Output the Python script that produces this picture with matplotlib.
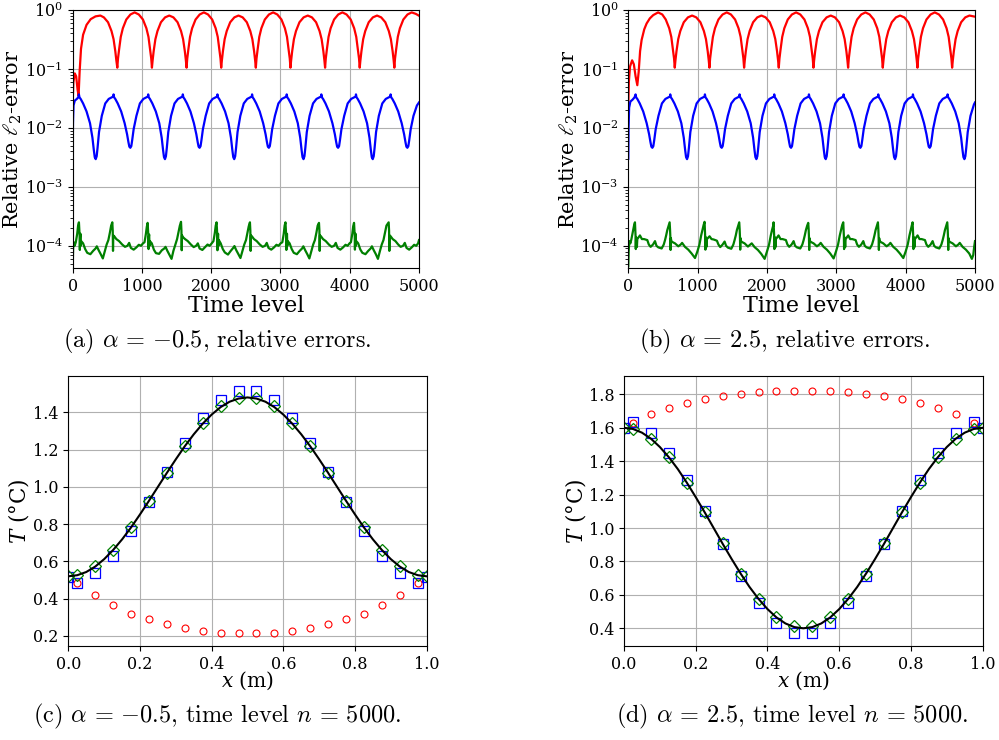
import numpy as np
import matplotlib
matplotlib.use('Agg')
import matplotlib.pyplot as plt

plt.rcParams['font.family'] = 'DejaVu Serif'
plt.rcParams['mathtext.fontset'] = 'dejavuserif'

# ---------------- data ----------------
# (a) alpha = -0.5, relative l2 errors vs time level
red_a_t = [0, 10, 30, 50, 70, 85, 100, 120, 150, 200, 260, 330, 400, 450, 510, 560, 590, 615, 630, 644,
           654, 669, 694, 724, 774, 834, 894, 954, 1014, 1064, 1094, 1119, 1134, 1144,
           1154, 1169, 1194, 1224, 1274, 1334, 1394, 1454, 1514, 1564, 1594, 1619, 1634, 1644,
           1654, 1669, 1694, 1724, 1774, 1834, 1894, 1954, 2014, 2064, 2094, 2119, 2134, 2144,
           2154, 2169, 2194, 2224, 2274, 2334, 2394, 2454, 2514, 2564, 2594, 2619, 2634, 2644,
           2654, 2669, 2694, 2724, 2774, 2834, 2894, 2954, 3014, 3064, 3094, 3119, 3134, 3144,
           3154, 3169, 3194, 3224, 3274, 3334, 3394, 3454, 3514, 3564, 3594, 3619, 3634, 3644,
           3654, 3669, 3694, 3724, 3774, 3834, 3894, 3954, 4014, 4064, 4094, 4119, 4134, 4144,
           4154, 4169, 4194, 4224, 4274, 4334, 4394, 4454, 4514, 4564, 4594, 4619, 4634, 4644,
           4654, 4669, 4694, 4724, 4774, 4834, 4894, 4954, 5000]
red_a_v = [0.028, 0.06, 0.084, 0.075, 0.045, 0.035, 0.09, 0.22, 0.38, 0.56, 0.70, 0.78, 0.805, 0.75, 0.62, 0.44, 0.32, 0.20, 0.14, 0.105,
           0.15, 0.21, 0.35, 0.49, 0.69, 0.84, 0.91, 0.84, 0.69, 0.49, 0.35, 0.21, 0.15, 0.105,
           0.14, 0.20, 0.32, 0.44, 0.62, 0.75, 0.805, 0.75, 0.62, 0.44, 0.32, 0.20, 0.14, 0.105,
           0.15, 0.21, 0.35, 0.49, 0.69, 0.84, 0.91, 0.84, 0.69, 0.49, 0.35, 0.21, 0.15, 0.105,
           0.14, 0.20, 0.32, 0.44, 0.62, 0.75, 0.805, 0.75, 0.62, 0.44, 0.32, 0.20, 0.14, 0.105,
           0.15, 0.21, 0.35, 0.49, 0.69, 0.84, 0.91, 0.84, 0.69, 0.49, 0.35, 0.21, 0.15, 0.105,
           0.14, 0.20, 0.32, 0.44, 0.62, 0.75, 0.805, 0.75, 0.62, 0.44, 0.32, 0.20, 0.14, 0.105,
           0.15, 0.21, 0.35, 0.49, 0.69, 0.84, 0.91, 0.84, 0.69, 0.49, 0.35, 0.21, 0.15, 0.105,
           0.14, 0.20, 0.32, 0.44, 0.62, 0.75, 0.805, 0.75, 0.62, 0.44, 0.32, 0.20, 0.14, 0.105,
           0.15, 0.21, 0.35, 0.49, 0.69, 0.84, 0.91, 0.86, 0.80]

blue_a_t = [0, 4, 12, 30, 60, 80,
            90, 98, 115, 150, 200, 250, 285, 305, 318, 332, 346, 359, 380, 420, 470, 520, 565, 585,
            590, 598, 615, 650, 700, 750, 785, 805, 818, 832, 846, 859, 880, 920, 970, 1020, 1065, 1085,
            1090, 1098, 1115, 1150, 1200, 1250, 1285, 1305, 1318, 1332, 1346, 1359, 1380, 1420, 1470, 1520, 1565, 1585,
            1590, 1598, 1615, 1650, 1700, 1750, 1785, 1805, 1818, 1832, 1846, 1859, 1880, 1920, 1970, 2020, 2065, 2085,
            2090, 2098, 2115, 2150, 2200, 2250, 2285, 2305, 2318, 2332, 2346, 2359, 2380, 2420, 2470, 2520, 2565, 2585,
            2590, 2598, 2615, 2650, 2700, 2750, 2785, 2805, 2818, 2832, 2846, 2859, 2880, 2920, 2970, 3020, 3065, 3085,
            3090, 3098, 3115, 3150, 3200, 3250, 3285, 3305, 3318, 3332, 3346, 3359, 3380, 3420, 3470, 3520, 3565, 3585,
            3590, 3598, 3615, 3650, 3700, 3750, 3785, 3805, 3818, 3832, 3846, 3859, 3880, 3920, 3970, 4020, 4065, 4085,
            4090, 4098, 4115, 4150, 4200, 4250, 4285, 4305, 4318, 4332, 4346, 4359, 4380, 4420, 4470, 4520, 4565, 4585,
            4590, 4598, 4615, 4650, 4700, 4750, 4785, 4805, 4818, 4832, 4846, 4859, 4880, 4920, 4970, 5000]
blue_a_v = [0.0035, 0.012, 0.024, 0.029, 0.031, 0.033,
            0.037, 0.033, 0.031, 0.026, 0.019, 0.012, 0.0068, 0.0042, 0.0032, 0.00295, 0.0033, 0.0046, 0.0085, 0.016, 0.026, 0.031, 0.033, 0.034,
            0.037, 0.033, 0.031, 0.026, 0.019, 0.012, 0.0078, 0.0057, 0.0048, 0.0046, 0.0049, 0.0062, 0.0095, 0.016, 0.026, 0.031, 0.033, 0.034,
            0.037, 0.033, 0.031, 0.026, 0.019, 0.012, 0.0068, 0.0042, 0.0032, 0.00295, 0.0033, 0.0046, 0.0085, 0.016, 0.026, 0.031, 0.033, 0.034,
            0.037, 0.033, 0.031, 0.026, 0.019, 0.012, 0.0078, 0.0057, 0.0048, 0.0046, 0.0049, 0.0062, 0.0095, 0.016, 0.026, 0.031, 0.033, 0.034,
            0.037, 0.033, 0.031, 0.026, 0.019, 0.012, 0.0068, 0.0042, 0.0032, 0.00295, 0.0033, 0.0046, 0.0085, 0.016, 0.026, 0.031, 0.033, 0.034,
            0.037, 0.033, 0.031, 0.026, 0.019, 0.012, 0.0078, 0.0057, 0.0048, 0.0046, 0.0049, 0.0062, 0.0095, 0.016, 0.026, 0.031, 0.033, 0.034,
            0.037, 0.033, 0.031, 0.026, 0.019, 0.012, 0.0068, 0.0042, 0.0032, 0.00295, 0.0033, 0.0046, 0.0085, 0.016, 0.026, 0.031, 0.033, 0.034,
            0.037, 0.033, 0.031, 0.026, 0.019, 0.012, 0.0078, 0.0057, 0.0048, 0.0046, 0.0049, 0.0062, 0.0095, 0.016, 0.026, 0.031, 0.033, 0.034,
            0.037, 0.033, 0.031, 0.026, 0.019, 0.012, 0.0068, 0.0042, 0.0032, 0.00295, 0.0033, 0.0046, 0.0085, 0.016, 0.026, 0.031, 0.033, 0.034,
            0.037, 0.033, 0.031, 0.026, 0.019, 0.012, 0.0078, 0.0057, 0.0048, 0.0046, 0.0049, 0.0062, 0.0095, 0.016, 0.024, 0.027]

green_a_t = [0, 6, 15, 28,
             45, 65, 78, 90, 96, 100, 103, 107, 112, 117, 123, 150, 180, 210, 255, 295, 330, 348, 375, 405, 435, 462,
             490, 515, 538, 555, 572, 578, 582, 586, 600, 630, 670, 715, 755, 790, 815, 840, 880, 920, 955, 985, 1015,
             1037, 1057, 1070, 1082, 1088, 1092, 1095, 1099, 1104, 1109, 1115, 1142, 1172, 1202, 1247, 1287, 1322, 1340, 1367, 1397, 1427, 1454,
             1482, 1507, 1530, 1547, 1564, 1570, 1574, 1578, 1592, 1622, 1662, 1707, 1747, 1782, 1807, 1832, 1872, 1912, 1947, 1977, 2007,
             2032, 2052, 2065, 2077, 2083, 2087, 2090, 2094, 2099, 2104, 2110, 2137, 2167, 2197, 2242, 2282, 2317, 2335, 2362, 2392, 2422, 2449,
             2477, 2502, 2525, 2542, 2559, 2565, 2569, 2573, 2587, 2617, 2657, 2702, 2742, 2777, 2802, 2827, 2867, 2907, 2942, 2972, 3002,
             3027, 3047, 3060, 3072, 3078, 3082, 3085, 3089, 3094, 3099, 3105, 3132, 3162, 3192, 3237, 3277, 3312, 3330, 3357, 3387, 3417, 3444,
             3472, 3497, 3520, 3537, 3556, 3562, 3566, 3570, 3584, 3614, 3654, 3699, 3739, 3774, 3799, 3824, 3864, 3904, 3939, 3969, 3997,
             4017, 4037, 4050, 4062, 4068, 4072, 4075, 4079, 4084, 4089, 4095, 4122, 4152, 4182, 4227, 4267, 4302, 4320, 4347, 4377, 4407, 4434,
             4462, 4487, 4510, 4530, 4562, 4568, 4572, 4576, 4590, 4620, 4660, 4700, 4735, 4770, 4795, 4820, 4858, 4895, 4930, 4960, 4987, 5000]
green_a_v = [4.5e-5, 9e-5, 1.15e-4, 1.0e-4,
             1.15e-4, 1.6e-4, 2.2e-4, 2.5e-4, 1.9e-4, 1.5e-4, 8.5e-5, 1.35e-4, 1.6e-4, 1.0e-4, 1.2e-4, 1.1e-4, 8.8e-5, 7.6e-5, 7.2e-5, 8.2e-5, 9.0e-5, 9.8e-5, 8.4e-5, 7.2e-5, 6.1e-5, 8.0e-5,
             1.05e-4, 1.25e-4, 1.7e-4, 2.2e-4, 2.5e-4, 1.8e-4, 8.2e-5, 1.5e-4, 1.45e-4, 1.3e-4, 1.2e-4, 1.05e-4, 9.6e-5, 1.0e-4, 1.12e-4, 9.2e-5, 8.6e-5, 9.4e-5, 1.04e-4, 1.0e-4, 1.1e-4,
             1.15e-4, 1.6e-4, 2.1e-4, 2.45e-4, 1.85e-4, 1.5e-4, 8.8e-5, 1.4e-4, 1.55e-4, 1.0e-4, 1.2e-4, 1.1e-4, 8.6e-5, 7.5e-5, 7.3e-5, 8.4e-5, 9.0e-5, 9.6e-5, 8.2e-5, 7.0e-5, 6.0e-5, 8.2e-5,
             1.05e-4, 1.3e-4, 1.75e-4, 2.2e-4, 2.55e-4, 1.8e-4, 8.4e-5, 1.5e-4, 1.4e-4, 1.3e-4, 1.2e-4, 1.05e-4, 9.5e-5, 1.0e-4, 1.1e-4, 9.0e-5, 8.5e-5, 9.5e-5, 1.05e-4, 1.0e-4, 1.1e-4,
             1.2e-4, 1.65e-4, 2.2e-4, 2.5e-4, 1.9e-4, 1.45e-4, 8.4e-5, 1.35e-4, 1.6e-4, 1.0e-4, 1.25e-4, 1.1e-4, 8.8e-5, 7.7e-5, 7.1e-5, 8.2e-5, 9.2e-5, 9.9e-5, 8.4e-5, 7.2e-5, 6.2e-5, 8.0e-5,
             1.05e-4, 1.25e-4, 1.7e-4, 2.15e-4, 2.5e-4, 1.8e-4, 8.2e-5, 1.5e-4, 1.45e-4, 1.3e-4, 1.2e-4, 1.05e-4, 9.6e-5, 1.0e-4, 1.12e-4, 9.2e-5, 8.6e-5, 9.4e-5, 1.04e-4, 1.0e-4, 1.1e-4,
             1.15e-4, 1.6e-4, 2.2e-4, 2.5e-4, 1.9e-4, 1.5e-4, 8.5e-5, 1.35e-4, 1.6e-4, 1.0e-4, 1.2e-4, 1.1e-4, 8.8e-5, 7.6e-5, 7.2e-5, 8.2e-5, 9.0e-5, 9.8e-5, 8.4e-5, 7.2e-5, 6.1e-5, 8.0e-5,
             1.05e-4, 1.25e-4, 1.7e-4, 2.2e-4, 2.45e-4, 1.8e-4, 8.2e-5, 1.5e-4, 1.45e-4, 1.3e-4, 1.2e-4, 1.05e-4, 9.6e-5, 1.0e-4, 1.12e-4, 9.2e-5, 8.6e-5, 9.4e-5, 1.04e-4, 1.0e-4, 1.1e-4,
             1.15e-4, 1.6e-4, 2.15e-4, 2.45e-4, 1.9e-4, 1.5e-4, 8.6e-5, 1.35e-4, 1.6e-4, 1.0e-4, 1.2e-4, 1.1e-4, 8.7e-5, 7.6e-5, 7.2e-5, 8.2e-5, 9.0e-5, 9.8e-5, 8.4e-5, 7.2e-5, 6.0e-5, 8.0e-5,
             1.05e-4, 1.25e-4, 1.7e-4, 2.2e-4, 2.5e-4, 1.8e-4, 8.2e-5, 1.5e-4, 1.45e-4, 1.3e-4, 1.2e-4, 1.05e-4, 9.6e-5, 1.0e-4, 1.12e-4, 9.2e-5, 8.6e-5, 9.4e-5, 1.04e-4, 1.0e-4, 1.1e-4, 1.25e-4]

# (b) alpha = 2.5, relative l2 errors vs time level
red_b_t = [0, 8, 25, 55, 80, 105, 130, 150, 170, 192, 230, 264, 310, 360, 430, 490, 540, 590, 620, 645, 660, 670,
           680, 695, 720, 750, 800, 860, 920, 980, 1040, 1090, 1120, 1145, 1160, 1170,
           1180, 1195, 1220, 1250, 1300, 1360, 1420, 1480, 1540, 1590, 1620, 1645, 1660, 1670,
           1680, 1695, 1720, 1750, 1800, 1860, 1920, 1980, 2040, 2090, 2120, 2145, 2160, 2170,
           2180, 2195, 2220, 2250, 2300, 2360, 2420, 2480, 2540, 2590, 2620, 2645, 2660, 2670,
           2680, 2695, 2720, 2750, 2800, 2860, 2920, 2980, 3040, 3090, 3120, 3145, 3160, 3170,
           3180, 3195, 3220, 3250, 3300, 3360, 3420, 3480, 3540, 3590, 3620, 3645, 3660, 3670,
           3680, 3695, 3720, 3750, 3800, 3860, 3920, 3980, 4040, 4090, 4120, 4145, 4160, 4170,
           4180, 4195, 4220, 4250, 4300, 4360, 4420, 4480, 4540, 4590, 4620, 4645, 4660, 4670,
           4680, 4695, 4720, 4750, 4800, 4860, 4920, 4980, 5000]
red_b_v = [0.025, 0.06, 0.11, 0.14, 0.12, 0.075, 0.053, 0.09, 0.20, 0.31, 0.47, 0.59, 0.72, 0.82, 0.91, 0.84, 0.69, 0.49, 0.35, 0.21, 0.15, 0.105,
           0.14, 0.20, 0.32, 0.44, 0.62, 0.75, 0.805, 0.75, 0.62, 0.44, 0.32, 0.20, 0.14, 0.105,
           0.15, 0.21, 0.35, 0.49, 0.69, 0.84, 0.91, 0.84, 0.69, 0.49, 0.35, 0.21, 0.15, 0.105,
           0.14, 0.20, 0.32, 0.44, 0.62, 0.75, 0.805, 0.75, 0.62, 0.44, 0.32, 0.20, 0.14, 0.105,
           0.15, 0.21, 0.35, 0.49, 0.69, 0.84, 0.91, 0.84, 0.69, 0.49, 0.35, 0.21, 0.15, 0.105,
           0.14, 0.20, 0.32, 0.44, 0.62, 0.75, 0.805, 0.75, 0.62, 0.44, 0.32, 0.20, 0.14, 0.105,
           0.15, 0.21, 0.35, 0.49, 0.69, 0.84, 0.91, 0.84, 0.69, 0.49, 0.35, 0.21, 0.15, 0.105,
           0.14, 0.20, 0.32, 0.44, 0.62, 0.75, 0.805, 0.75, 0.62, 0.44, 0.32, 0.20, 0.14, 0.105,
           0.15, 0.21, 0.35, 0.49, 0.69, 0.84, 0.91, 0.84, 0.69, 0.49, 0.35, 0.21, 0.15, 0.105,
           0.14, 0.20, 0.32, 0.44, 0.62, 0.75, 0.805, 0.78, 0.77]

blue_b_t = [0, 4, 12, 30, 60, 90,
            105, 113, 130, 165, 215, 265, 300, 320, 333, 347, 361, 374, 395, 435, 485, 535, 580, 600,
            605, 613, 630, 665, 715, 765, 800, 820, 833, 847, 861, 874, 895, 935, 985, 1035, 1080, 1100,
            1105, 1113, 1130, 1165, 1215, 1265, 1300, 1320, 1333, 1347, 1361, 1374, 1395, 1435, 1485, 1535, 1580, 1600,
            1605, 1613, 1630, 1665, 1715, 1765, 1800, 1820, 1833, 1847, 1861, 1874, 1895, 1935, 1985, 2035, 2080, 2100,
            2105, 2113, 2130, 2165, 2215, 2265, 2300, 2320, 2333, 2347, 2361, 2374, 2395, 2435, 2485, 2535, 2580, 2600,
            2605, 2613, 2630, 2665, 2715, 2765, 2800, 2820, 2833, 2847, 2861, 2874, 2895, 2935, 2985, 3035, 3080, 3100,
            3105, 3113, 3130, 3165, 3215, 3265, 3300, 3320, 3333, 3347, 3361, 3374, 3395, 3435, 3485, 3535, 3580, 3600,
            3605, 3613, 3630, 3665, 3715, 3765, 3800, 3820, 3833, 3847, 3861, 3874, 3895, 3935, 3985, 4035, 4080, 4100,
            4105, 4113, 4130, 4165, 4215, 4265, 4300, 4320, 4333, 4347, 4361, 4374, 4395, 4435, 4485, 4535, 4580, 4600,
            4605, 4613, 4630, 4665, 4715, 4765, 4800, 4820, 4833, 4847, 4861, 4874, 4895, 4935, 4985, 5000]
blue_b_v = [0.003, 0.010, 0.022, 0.028, 0.030, 0.033,
            0.037, 0.033, 0.031, 0.026, 0.019, 0.012, 0.0078, 0.0057, 0.0048, 0.0046, 0.0049, 0.0062, 0.0095, 0.016, 0.026, 0.031, 0.033, 0.034,
            0.037, 0.033, 0.031, 0.026, 0.019, 0.012, 0.0068, 0.0042, 0.0032, 0.00295, 0.0033, 0.0046, 0.0085, 0.016, 0.026, 0.031, 0.033, 0.034,
            0.037, 0.033, 0.031, 0.026, 0.019, 0.012, 0.0078, 0.0057, 0.0048, 0.0046, 0.0049, 0.0062, 0.0095, 0.016, 0.026, 0.031, 0.033, 0.034,
            0.037, 0.033, 0.031, 0.026, 0.019, 0.012, 0.0068, 0.0042, 0.0032, 0.00295, 0.0033, 0.0046, 0.0085, 0.016, 0.026, 0.031, 0.033, 0.034,
            0.037, 0.033, 0.031, 0.026, 0.019, 0.012, 0.0078, 0.0057, 0.0048, 0.0046, 0.0049, 0.0062, 0.0095, 0.016, 0.026, 0.031, 0.033, 0.034,
            0.037, 0.033, 0.031, 0.026, 0.019, 0.012, 0.0068, 0.0042, 0.0032, 0.00295, 0.0033, 0.0046, 0.0085, 0.016, 0.026, 0.031, 0.033, 0.034,
            0.037, 0.033, 0.031, 0.026, 0.019, 0.012, 0.0078, 0.0057, 0.0048, 0.0046, 0.0049, 0.0062, 0.0095, 0.016, 0.026, 0.031, 0.033, 0.034,
            0.037, 0.033, 0.031, 0.026, 0.019, 0.012, 0.0068, 0.0042, 0.0032, 0.00295, 0.0033, 0.0046, 0.0085, 0.016, 0.026, 0.031, 0.033, 0.034,
            0.037, 0.033, 0.031, 0.026, 0.019, 0.012, 0.0078, 0.0057, 0.0048, 0.0046, 0.0049, 0.0062, 0.0095, 0.016, 0.026, 0.031, 0.033, 0.034,
            0.037, 0.033, 0.031, 0.026, 0.019, 0.012, 0.0068, 0.0042, 0.0032, 0.00295, 0.0033, 0.0046, 0.0085, 0.016, 0.025, 0.027]

green_b_t = [0, 5, 15, 30, 45, 60, 75, 86,
             96, 101, 105, 108, 112, 118, 124, 130, 168, 196, 226, 274, 296, 322, 356, 385, 406, 433, 481, 511,
             529, 546, 562, 581, 596, 602, 606, 610, 614, 621, 641, 673, 721, 756, 776, 817, 865, 913, 962, 996, 1026, 1051, 1071, 1086,
             1100, 1105, 1109, 1112, 1116, 1122, 1128, 1134, 1172, 1200, 1230, 1278, 1300, 1326, 1360, 1389, 1410, 1437, 1485, 1515,
             1533, 1550, 1566, 1585, 1600, 1606, 1610, 1614, 1618, 1625, 1645, 1677, 1725, 1760, 1780, 1821, 1869, 1917, 1966, 2000, 2030, 2055, 2075, 2090,
             2095, 2100, 2104, 2107, 2111, 2117, 2123, 2129, 2167, 2195, 2225, 2273, 2295, 2321, 2355, 2384, 2405, 2432, 2480, 2510,
             2528, 2545, 2561, 2580, 2595, 2601, 2605, 2609, 2613, 2620, 2640, 2672, 2720, 2755, 2775, 2816, 2864, 2912, 2961, 2995, 3025, 3050, 3070, 3085,
             3100, 3105, 3109, 3112, 3116, 3122, 3128, 3134, 3172, 3200, 3230, 3278, 3300, 3326, 3360, 3389, 3410, 3437, 3485, 3515,
             3533, 3550, 3566, 3585, 3600, 3606, 3610, 3614, 3618, 3625, 3645, 3677, 3725, 3760, 3780, 3821, 3869, 3917, 3966, 4000, 4030, 4055, 4075, 4090,
             4100, 4105, 4109, 4112, 4116, 4122, 4128, 4134, 4172, 4200, 4230, 4278, 4300, 4326, 4360, 4389, 4410, 4437, 4485, 4515,
             4533, 4550, 4566, 4585, 4600, 4606, 4610, 4614, 4618, 4625, 4645, 4677, 4725, 4760, 4780, 4821, 4869, 4917, 4955, 4975, 4990, 5000]
green_b_v = [4.5e-5, 8e-5, 1.2e-4, 1.1e-4, 1.3e-4, 1.6e-4, 2.0e-4, 2.3e-4,
             2.5e-4, 1.9e-4, 1.45e-4, 8.8e-5, 1.4e-4, 1.25e-4, 9.5e-5, 1.3e-4, 1.5e-4, 1.3e-4, 1.3e-4, 1.25e-4, 1.05e-4, 9.6e-5, 1.05e-4, 1.2e-4, 1.0e-4, 9.4e-5, 9.0e-5, 1.05e-4,
             1.24e-4, 1.5e-4, 1.84e-4, 2.2e-4, 2.5e-4, 1.9e-4, 1.45e-4, 8.5e-5, 1.35e-4, 1.2e-4, 1.15e-4, 1.1e-4, 9.8e-5, 1.05e-4, 1.12e-4, 9.6e-5, 8.6e-5, 7.4e-5, 6.2e-5, 8.0e-5, 1.05e-4, 1.5e-4, 1.9e-4, 2.25e-4,
             2.55e-4, 1.9e-4, 1.4e-4, 8.6e-5, 1.4e-4, 1.25e-4, 9.6e-5, 1.3e-4, 1.45e-4, 1.3e-4, 1.28e-4, 1.22e-4, 1.05e-4, 9.5e-5, 1.05e-4, 1.18e-4, 1.0e-4, 9.3e-5, 8.9e-5, 1.05e-4,
             1.25e-4, 1.5e-4, 1.85e-4, 2.2e-4, 2.5e-4, 1.9e-4, 1.45e-4, 8.6e-5, 1.35e-4, 1.2e-4, 1.15e-4, 1.1e-4, 9.7e-5, 1.05e-4, 1.1e-4, 9.5e-5, 8.5e-5, 7.3e-5, 6.0e-5, 8.0e-5, 1.05e-4, 1.5e-4, 1.9e-4, 2.2e-4,
             2.5e-4, 1.9e-4, 1.45e-4, 8.8e-5, 1.4e-4, 1.25e-4, 9.5e-5, 1.3e-4, 1.5e-4, 1.3e-4, 1.3e-4, 1.25e-4, 1.05e-4, 9.6e-5, 1.05e-4, 1.2e-4, 1.0e-4, 9.4e-5, 9.0e-5, 1.05e-4,
             1.24e-4, 1.5e-4, 1.84e-4, 2.2e-4, 2.45e-4, 1.9e-4, 1.45e-4, 8.5e-5, 1.35e-4, 1.2e-4, 1.15e-4, 1.1e-4, 9.8e-5, 1.05e-4, 1.12e-4, 9.6e-5, 8.6e-5, 7.4e-5, 6.1e-5, 8.0e-5, 1.05e-4, 1.5e-4, 1.9e-4, 2.25e-4,
             2.5e-4, 1.9e-4, 1.45e-4, 8.8e-5, 1.4e-4, 1.25e-4, 9.5e-5, 1.3e-4, 1.5e-4, 1.3e-4, 1.3e-4, 1.25e-4, 1.05e-4, 9.6e-5, 1.05e-4, 1.2e-4, 1.0e-4, 9.4e-5, 9.0e-5, 1.05e-4,
             1.24e-4, 1.5e-4, 1.84e-4, 2.2e-4, 2.5e-4, 1.9e-4, 1.45e-4, 8.5e-5, 1.35e-4, 1.2e-4, 1.15e-4, 1.1e-4, 9.8e-5, 1.05e-4, 1.12e-4, 9.6e-5, 8.6e-5, 7.4e-5, 6.2e-5, 8.0e-5, 1.05e-4, 1.5e-4, 1.9e-4, 2.25e-4,
             2.5e-4, 1.9e-4, 1.45e-4, 8.8e-5, 1.4e-4, 1.25e-4, 9.5e-5, 1.3e-4, 1.5e-4, 1.3e-4, 1.3e-4, 1.25e-4, 1.05e-4, 9.6e-5, 1.05e-4, 1.2e-4, 1.0e-4, 9.4e-5, 9.0e-5, 1.05e-4,
             1.24e-4, 1.5e-4, 1.84e-4, 2.2e-4, 2.5e-4, 1.9e-4, 1.45e-4, 8.5e-5, 1.35e-4, 1.2e-4, 1.15e-4, 1.1e-4, 9.8e-5, 1.05e-4, 1.12e-4, 9.6e-5, 8.6e-5, 7.4e-5, 6.0e-5, 7.0e-5, 1.0e-4, 1.2e-4]

# (c), (d) temperature profiles at n = 5000
x_pts = [0.0, 0.025, 0.075, 0.125, 0.175, 0.225, 0.275, 0.325, 0.375, 0.425, 0.475,
         0.525, 0.575, 0.625, 0.675, 0.725, 0.775, 0.825, 0.875, 0.925, 0.975, 1.0]
x_red = x_pts[1:-1]
x_line = [0.0, 0.025, 0.05, 0.075, 0.1, 0.125, 0.15, 0.175, 0.2, 0.225, 0.25, 0.275, 0.3, 0.325, 0.35,
          0.375, 0.4, 0.425, 0.45, 0.475, 0.5, 0.525, 0.55, 0.575, 0.6, 0.625, 0.65, 0.675, 0.7,
          0.725, 0.75, 0.775, 0.8, 0.825, 0.85, 0.875, 0.9, 0.925, 0.95, 0.975, 1.0]

red_c = [0.483, 0.42, 0.365, 0.32, 0.29, 0.262, 0.242, 0.227, 0.218, 0.214,
         0.214, 0.218, 0.227, 0.242, 0.262, 0.29, 0.32, 0.365, 0.42, 0.483]
blue_c = [0.518, 0.483, 0.536, 0.63, 0.763, 0.92, 1.081, 1.237, 1.371, 1.466, 1.516,
          1.516, 1.466, 1.371, 1.237, 1.081, 0.92, 0.763, 0.63, 0.536, 0.483, 0.518]
green_c = [0.52, 0.527, 0.575, 0.661, 0.786, 0.924, 1.076, 1.222, 1.344, 1.434, 1.478,
           1.478, 1.434, 1.344, 1.222, 1.076, 0.924, 0.786, 0.661, 0.575, 0.527, 0.52]
exact_c = [0.52, 0.526, 0.543, 0.572, 0.612, 0.661, 0.718, 0.782, 0.852, 0.925, 1.0,
           1.075, 1.148, 1.218, 1.282, 1.339, 1.388, 1.428, 1.457, 1.474, 1.48,
           1.474, 1.457, 1.428, 1.388, 1.339, 1.282, 1.218, 1.148, 1.075, 1.0,
           0.925, 0.852, 0.782, 0.718, 0.661, 0.612, 0.572, 0.543, 0.526, 0.52]

red_d = [1.63, 1.68, 1.716, 1.748, 1.772, 1.79, 1.802, 1.812, 1.82, 1.822,
         1.822, 1.82, 1.812, 1.802, 1.79, 1.772, 1.748, 1.716, 1.68, 1.63]
blue_d = [1.60, 1.636, 1.57, 1.452, 1.29, 1.10, 0.904, 0.712, 0.549, 0.433, 0.369,
          0.369, 0.433, 0.549, 0.712, 0.904, 1.10, 1.29, 1.452, 1.57, 1.636, 1.60]
green_d = [1.60, 1.59, 1.532, 1.427, 1.271, 1.098, 0.908, 0.725, 0.575, 0.47, 0.413,
           0.413, 0.47, 0.575, 0.725, 0.908, 1.098, 1.271, 1.427, 1.532, 1.59, 1.60]
exact_d = [1.6, 1.593, 1.571, 1.535, 1.485, 1.424, 1.353, 1.272, 1.185, 1.094, 1.0,
           0.906, 0.815, 0.728, 0.647, 0.576, 0.515, 0.465, 0.429, 0.407, 0.4,
           0.407, 0.429, 0.465, 0.515, 0.576, 0.647, 0.728, 0.815, 0.906, 1.0,
           1.094, 1.185, 1.272, 1.353, 1.424, 1.485, 1.535, 1.571, 1.593, 1.6]

captions = [r'(a) $\alpha\,=\,{-}0.5$, relative errors.',
            r'(b) $\alpha\,=\,2.5$, relative errors.',
            r'(c) $\alpha\,=\,{-}0.5$, time level $n\,=\,5000$.',
            r'(d) $\alpha\,=\,2.5$, time level $n\,=\,5000$.']

# ---------------- figure ----------------
W, H = 999, 740
fig = plt.figure(figsize=(W / 100, H / 100), dpi=100)


def add_ax(left, right, top, bottom):
    return fig.add_axes([left / W, 1 - bottom / H, (right - left) / W, (bottom - top) / H])


ax_a = add_ax(72.7, 419, 10, 268)
ax_b = add_ax(628.3, 975, 10, 268)
ax_c = add_ax(68.3, 426.7, 376, 646)
ax_d = add_ax(624, 982.7, 376, 646)

tick_fs = 11.5

for ax, rt, rv, bt, bv, gt, gv in [(ax_a, red_a_t, red_a_v, blue_a_t, blue_a_v, green_a_t, green_a_v),
                                   (ax_b, red_b_t, red_b_v, blue_b_t, blue_b_v, green_b_t, green_b_v)]:
    ax.semilogy(rt, rv, color='#ff0000', lw=1.6)
    ax.semilogy(bt, bv, color='#0000ff', lw=1.6)
    ax.semilogy(gt, gv, color='#008000', lw=1.6)
    ax.set_xlim(0, 5000)
    ax.set_ylim(4.2e-5, 1.0)
    ax.set_xticks([0, 1000, 2000, 3000, 4000, 5000])
    ax.grid(True, which='major', color='#b0b0b0', lw=0.8)
    ax.tick_params(labelsize=tick_fs)
    ax.set_xlabel('Time level', fontsize=16)
    ax.set_ylabel(r'Relative $\ell_2$-error', fontsize=15)
    ax.xaxis.set_label_coords(0.5, -0.146)
    ax.xaxis.label.set_verticalalignment('center')
    ax.yaxis.set_label_coords(-0.172, 0.5)
    ax.yaxis.label.set_verticalalignment('center')

for ax, rd, bd, gd, ex, ylim, yt, ylab_x in [(ax_c, red_c, blue_c, green_c, exact_c, (0.146, 1.595),
                                              [0.2, 0.4, 0.6, 0.8, 1.0, 1.2, 1.4], -0.139),
                                             (ax_d, red_d, blue_d, green_d, exact_d, (0.294, 1.91),
                                              [0.4, 0.6, 0.8, 1.0, 1.2, 1.4, 1.6, 1.8], -0.135)]:
    ax.plot(x_red, rd, 'o', ms=5, mfc='none', mec='#ff0000', mew=0.8)
    ax.plot(x_pts, bd, 's', ms=6.8, mfc='none', mec='#0000ff', mew=0.9)
    ax.plot(x_pts, gd, 'D', ms=6.3, mfc='none', mec='#008000', mew=0.9)
    ax.plot(x_line, ex, '-', color='black', lw=1.5)
    ax.set_xlim(0, 1)
    ax.set_ylim(*ylim)
    ax.set_xticks([0.0, 0.2, 0.4, 0.6, 0.8, 1.0])
    ax.set_yticks(yt)
    ax.grid(True, color='#b0b0b0', lw=0.8)
    ax.tick_params(labelsize=tick_fs)
    ax.set_xlabel(r'$x$ (m)', fontsize=14.5)
    ax.set_ylabel(r'$T$ (°C)', fontsize=15.5)
    ax.xaxis.set_label_coords(0.5, -0.13)
    ax.xaxis.label.set_verticalalignment('center')
    ax.yaxis.set_label_coords(ylab_x, 0.5)
    ax.yaxis.label.set_verticalalignment('center')

cap_pos = [(217, 341), (785, 341), (217, 716), (792, 716)]
for (cx, cy), txt in zip(cap_pos, captions):
    fig.text(cx / W, 1 - cy / H, txt, ha='center', va='center', fontsize=17.5,
             family='cmr10', math_fontfamily='cm')

fig.savefig('out.png', dpi=100)
